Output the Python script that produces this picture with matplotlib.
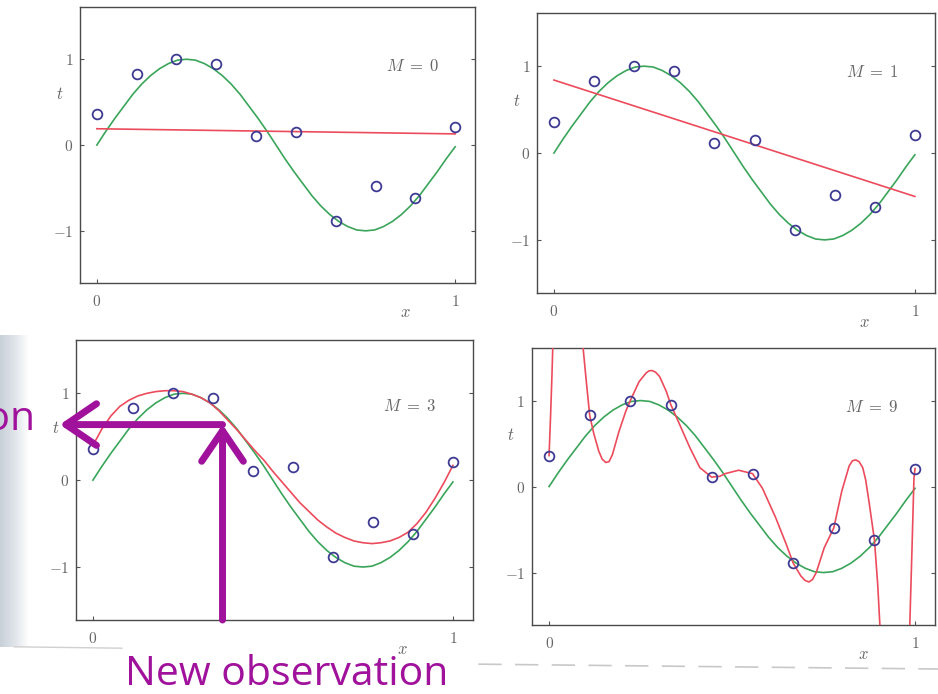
import numpy as np
import matplotlib
matplotlib.use('Agg')
import matplotlib.pyplot as plt
import matplotlib.transforms as mtransforms
from matplotlib.colors import LinearSegmentedColormap
from matplotlib.lines import Line2D

plt.rcParams['mathtext.fontset'] = 'cm'

# observed data points (same in all four panels)
data_x = [0.0, 0.111, 0.222, 0.333, 0.444, 0.556, 0.667, 0.778, 0.889, 1.0]
data_t = [0.36, 0.83, 1.0, 0.95, 0.11, 0.15, -0.89, -0.48, -0.62, 0.21]

# green curve
green_x = [0.0, 0.025, 0.05, 0.075, 0.1, 0.125, 0.15, 0.175, 0.2, 0.225,
           0.25, 0.275, 0.3, 0.325, 0.35, 0.375, 0.4, 0.425, 0.45, 0.475,
           0.5, 0.525, 0.55, 0.575, 0.6, 0.625, 0.65, 0.675, 0.7, 0.725,
           0.75, 0.775, 0.8, 0.825, 0.85, 0.875, 0.9, 0.925, 0.95, 0.975, 1.0]
green_t = [0.0, 0.16, 0.31, 0.45, 0.59, 0.71, 0.81, 0.89, 0.95, 0.99,
           1.0, 0.99, 0.95, 0.89, 0.81, 0.71, 0.59, 0.45, 0.31, 0.16,
           0.0, -0.16, -0.31, -0.45, -0.59, -0.71, -0.81, -0.89, -0.95, -0.99,
           -1.0, -0.99, -0.95, -0.89, -0.81, -0.71, -0.59, -0.45, -0.31, -0.16, -0.02]

# red fitted curves
m0_x = [0.0, 1.0]
m0_t = [0.19, 0.13]

m1_x = [0.0, 1.0]
m1_t = [0.84, -0.5]

m3_x = [0.0, 0.025, 0.05, 0.075, 0.1, 0.125, 0.15, 0.175, 0.2, 0.225,
        0.25, 0.275, 0.3, 0.325, 0.35, 0.375, 0.4, 0.425, 0.45, 0.475,
        0.5, 0.525, 0.55, 0.575, 0.6, 0.625, 0.65, 0.675, 0.7, 0.725,
        0.75, 0.775, 0.8, 0.825, 0.85, 0.875, 0.9, 0.925, 0.95, 0.975, 1.0]
m3_t = [0.40, 0.59, 0.74, 0.85, 0.92, 0.97, 1.00, 1.02, 1.03, 1.03,
        1.02, 0.99, 0.95, 0.89, 0.80, 0.69, 0.58, 0.46, 0.34, 0.23,
        0.10, -0.02, -0.14, -0.26, -0.36, -0.46, -0.54, -0.61, -0.66, -0.70,
        -0.72, -0.73, -0.72, -0.70, -0.66, -0.60, -0.50, -0.37, -0.21, -0.03, 0.17]

m9_x = [0.0, 0.004, 0.008, 0.011, 0.05, 0.09, 0.1, 0.111, 0.122, 0.136,
        0.145, 0.155, 0.164, 0.173, 0.191, 0.21, 0.222, 0.246, 0.265, 0.273,
        0.281, 0.291, 0.302, 0.32, 0.333, 0.357, 0.385, 0.412, 0.444, 0.467,
        0.481, 0.518, 0.556, 0.583, 0.619, 0.648, 0.667, 0.688, 0.699, 0.71,
        0.72, 0.73, 0.752, 0.778, 0.8, 0.82, 0.829, 0.838, 0.847, 0.857,
        0.865, 0.875, 0.889, 0.898, 0.905, 0.94, 0.985, 0.992, 0.997, 1.0]
m9_t = [0.36, 0.8, 1.3, 1.75, 4.0, 1.75, 1.3, 0.83, 0.62, 0.41,
        0.32, 0.28, 0.29, 0.37, 0.64, 0.88, 1.0, 1.22, 1.32, 1.345,
        1.35, 1.33, 1.28, 1.11, 0.95, 0.72, 0.45, 0.22, 0.11, 0.12,
        0.15, 0.19, 0.15, -0.02, -0.36, -0.67, -0.89, -1.04, -1.09, -1.11,
        -1.08, -1.0, -0.71, -0.48, -0.05, 0.24, 0.30, 0.31, 0.29, 0.22,
        0.08, -0.2, -0.62, -1.14, -1.7, -4.0, -1.7, -0.67, 0.1, 0.21]

orders = ['0', '1', '3', '9']
fit_x = [m0_x, m1_x, m3_x, m9_x]
fit_t = [m0_t, m1_t, m3_t, m9_t]

green = '#3aa55a'
red = '#ec4b5c'
blue = '#3e3a92'
purple = '#a0129c'
gray = '#555555'

rects = [[0.0853, 0.592, 0.421, 0.398],
         [0.5725, 0.578, 0.424, 0.403],
         [0.081, 0.1066, 0.423, 0.403],
         [0.567, 0.0994, 0.43, 0.399]]
label_y = [0.92, 0.93, 0.85, 0.93]

fig = plt.figure(figsize=(9.38, 6.94), dpi=100)

# grey page shadow from the scan, left of lower-left panel
cmap = LinearSegmentedColormap.from_list('shade', ['#c8d0d8', '#dfe4e9', '#ffffff'])
gax = fig.add_axes([0, 47 / 694, 28 / 938, 312 / 694])
gax.imshow(np.linspace(0, 1, 60)[None, :], cmap=cmap, aspect='auto')
gax.axis('off')

axes = []
for i, rect in enumerate(rects):
    ax = fig.add_axes(rect)
    ax.plot(green_x, green_t, color=green, lw=1.2, zorder=2)
    ax.plot(fit_x[i], fit_t[i], color=red, lw=1.2, zorder=3)
    ax.plot(data_x, data_t, 'o', ms=7, mfc='none', mec=blue, mew=1.3, zorder=4)
    ax.set_xlim(-0.047, 1.055)
    ax.set_ylim(-1.61, 1.61)
    ax.set_xticks([0, 1], ['$0$', '$1$'])
    ax.set_yticks([-1, 0, 1], ['$-1$', '$0$', '$1$'])
    ax.tick_params(direction='in', length=3, width=0.8, color=gray,
                   labelcolor='#666666', labelsize=11, right=True)
    ax.tick_params(axis='x', pad=8)
    ax.tick_params(axis='y', pad=5)
    for sp in ax.spines.values():
        sp.set_color('#4a4a4a')
        sp.set_linewidth(1.0)
    ax.text(0.88, label_y[i], r'$M\;=\;' + orders[i] + '$', ha='center',
            va='center', fontsize=12, color='#666666')
    tx = mtransforms.blended_transform_factory(ax.transData, ax.transAxes)
    ax.text(0.86, -0.105, '$x$', transform=tx, ha='center', va='center',
            fontsize=12, color='#666666')
    ty = mtransforms.blended_transform_factory(ax.transAxes, ax.transData)
    ax.text(-0.052, 0.6, '$t$', transform=ty, ha='center', va='center',
            fontsize=12, color='#666666')
    axes.append(ax)

# annotation arrows on the M = 3 panel
ax3 = axes[2]
arrow = dict(arrowstyle='->,head_length=1.1,head_width=0.75', lw=5, color=purple,
             shrinkA=0, shrinkB=0, mutation_scale=20, capstyle='round',
             joinstyle='round')
ax3.annotate('', xy=(-0.092, 0.64), xytext=(0.36, 0.64), arrowprops=arrow,
             annotation_clip=False, zorder=10)
ax3.annotate('', xy=(0.36, 0.64), xytext=(0.36, -1.61), arrowprops=arrow,
             annotation_clip=False, zorder=10)

fig.text(0.133, 0.013, 'New observation', color=purple, fontsize=29.5,
         family='Open Sans', ha='left', va='baseline')
fig.text(0.037, 0.38, 'Prediction', color=purple, fontsize=29.5,
         family='Open Sans', ha='right', va='baseline')

# page edge lines from the scan
fig.add_artist(Line2D([0.51, 1.0], [0.043, 0.036], transform=fig.transFigure,
                      color='#c8c8c8', lw=1.2, ls=(0, (14, 8))))
fig.add_artist(Line2D([0.015, 0.13], [0.068, 0.066], transform=fig.transFigure,
                      color='#d0d0d0', lw=1.0))

fig.savefig('out.png', dpi=100)
